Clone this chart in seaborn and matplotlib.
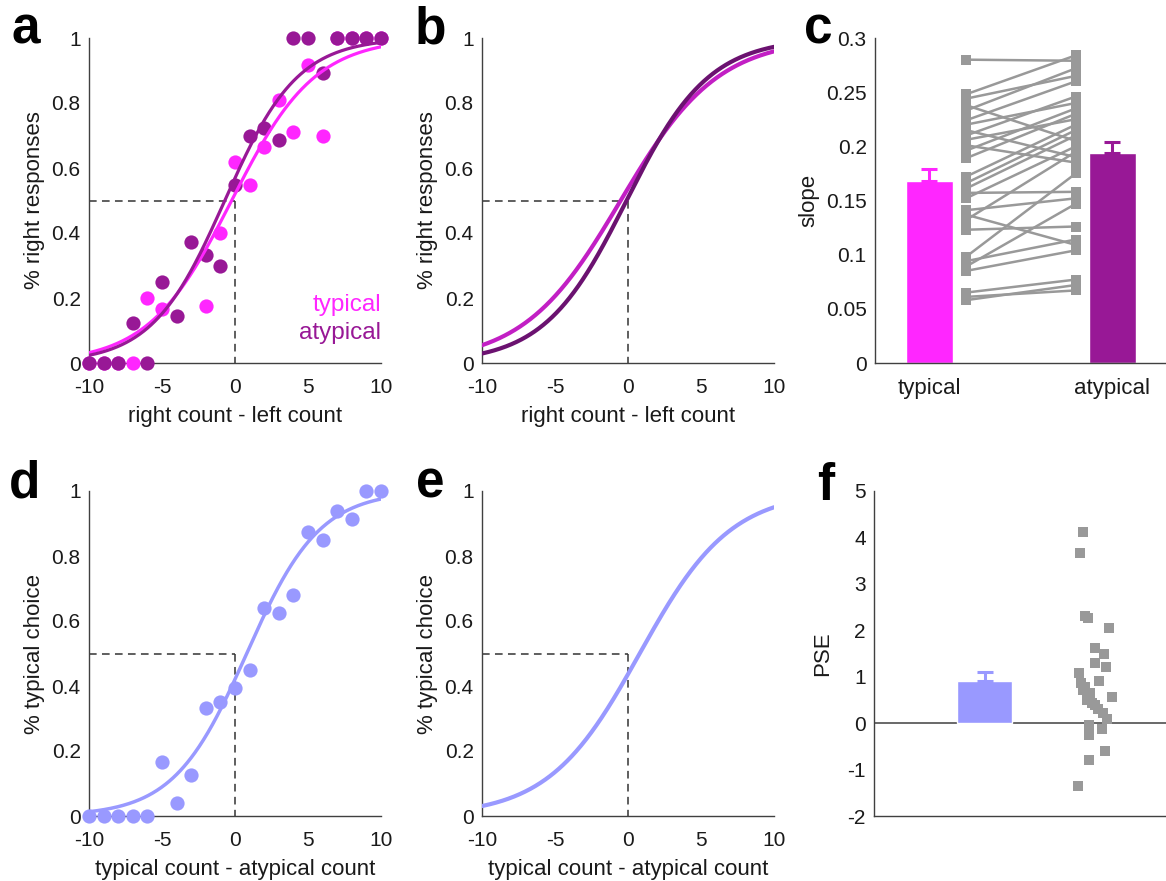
import numpy as np
import pandas as pd
import matplotlib
matplotlib.use("Agg")
import matplotlib.pyplot as plt
import seaborn as sns

# ---------------- data ----------------
# panel a: observed proportions (right responses) per count difference
typ_x = [-10, -9, -8, -7, -6, -5, -2, -1, 0, 1, 2, 3, 4, 5, 6, 7, 8, 9, 10]
typ_y = [0, 0, 0, 0, 0.20, 0.165, 0.175, 0.40, 0.617, 0.548, 0.665, 0.81, 0.712, 0.918, 0.70, 1, 1, 1, 1]
atyp_x = list(range(-10, 11))
atyp_y = [0, 0, 0, 0.124, 0, 0.25, 0.145, 0.372, 0.332, 0.298, 0.548, 0.699, 0.722, 0.687,
          1, 1, 0.893, 1, 1, 1, 1]
# logistic fit parameters (PSE, slope)
fit_a_typ = (-0.23, 0.35)
fit_a_atyp = (-0.70, 0.40)
fit_b_typ = (-0.50, 0.30)
fit_b_atyp = (-0.10, 0.354)

# panel c: individual slopes (paired) and group means / SEM
slope_typical = [0.280, 0.248, 0.244, 0.238, 0.233, 0.224, 0.220, 0.215, 0.210, 0.206,
                 0.201, 0.196, 0.189, 0.172, 0.166, 0.161, 0.157, 0.152, 0.141, 0.137,
                 0.132, 0.123, 0.098, 0.094, 0.089, 0.085, 0.065, 0.061, 0.058]
slope_atypical = [0.279, 0.284, 0.265, 0.205, 0.272, 0.260, 0.240, 0.190, 0.246, 0.225,
                  0.185, 0.235, 0.230, 0.220, 0.215, 0.210, 0.158, 0.200, 0.152, 0.109,
                  0.195, 0.126, 0.175, 0.114, 0.147, 0.104, 0.077, 0.067, 0.072]
slope_means = [0.168, 0.1935]
slope_sems = [0.011, 0.0105]
cond_labels = ["typical", "atypical"]

# panel d: typical choice proportions
d_x = list(range(-10, 11))
d_y = [0, 0, 0, 0, 0, 0.166, 0.039, 0.125, 0.333, 0.351, 0.394, 0.450, 0.640, 0.624,
       0.679, 0.875, 0.850, 0.937, 0.913, 1.0, 1.0]
fit_d = (0.80, 0.40)
fit_e = (0.80, 0.32)

# panel f: PSE values
pse_values = [4.12, 3.66, 2.31, 2.26, 2.04, 1.62, 1.49, 1.30, 1.21, 1.09, 0.91, 0.87,
              0.78, 0.71, 0.64, 0.56, 0.50, 0.44, 0.39, 0.30, 0.22, 0.10, -0.04, -0.13,
              -0.26, -0.60, -0.80, -1.35]
pse_mean = 0.91
pse_sem = 0.20

psych_ticks = [0, 0.2, 0.4, 0.6, 0.8, 1]
psych_ticklabels = ["0", "0.2", "0.4", "0.6", "0.8", "1"]
count_ticks = [-10, -5, 0, 5, 10]
count_ticklabels = ["-10", "-5", "0", "5", "10"]
slope_ticks = [0, 0.05, 0.1, 0.15, 0.2, 0.25, 0.3]
slope_ticklabels = ["0", "0.05", "0.1", "0.15", "0.2", "0.25", "0.3"]
pse_ticks = [-2, -1, 0, 1, 2, 3, 4, 5]
pse_ticklabels = ["-2", "-1", "0", "1", "2", "3", "4", "5"]

# ---------------- style ----------------
MAG = "#FF26FF"
PUR = "#981896"
B_LIGHT = "#C21FC4"
B_DARK = "#6B1270"
PERI = "#9999FF"
GRAY = "#999999"
AXC = "#404040"
TXT = "#1a1a1a"
LAB_FS = 16

sns.set_theme(style="white")
plt.rcParams["font.family"] = ["Liberation Sans", "DejaVu Sans"]
plt.rcParams["font.size"] = 15

W, H = 1166, 881
fig = plt.figure(figsize=(W / 100, H / 100), dpi=100)


def add_ax(l, r, t, b):
    return fig.add_axes([l / W, 1 - b / H, (r - l) / W, (b - t) / H])


def style(ax):
    for s in ["top", "right"]:
        ax.spines[s].set_visible(False)
    for s in ["left", "bottom"]:
        ax.spines[s].set_color(AXC)
        ax.spines[s].set_linewidth(1.0)
    ax.tick_params(direction="in", length=4, width=1, color=AXC, labelsize=15,
                   labelcolor=TXT)
    ax.tick_params(axis="y", pad=6)
    ax.tick_params(axis="x", pad=10.5)
    ax.set_facecolor("white")


def logistic(x, p):
    mu, k = p
    return 1.0 / (1.0 + np.exp(-k * (x - mu)))


xx = np.linspace(-10, 10, 401)


def psych_axes(ax, xlabel, ylabel):
    style(ax)
    ax.set_xlim(-10, 10)
    ax.set_ylim(0, 1)
    ax.set_xticks(count_ticks)
    ax.set_xticklabels(count_ticklabels)
    ax.set_yticks(psych_ticks)
    ax.set_yticklabels(psych_ticklabels)
    ax.set_xlabel(xlabel, fontsize=LAB_FS, labelpad=6.5, color=TXT)
    ax.set_ylabel(ylabel, fontsize=LAB_FS, labelpad=5, color=TXT)


def ref_lines(ax):
    ax.plot([-10, 0], [0.5, 0.5], ls=(0, (5, 3.5)), color="#333333", lw=1.1, zorder=1)
    ax.plot([0, 0], [0.5, 0], ls=(0, (5, 3.5)), color="#333333", lw=1.1, zorder=1)


# ---- panel a ----
ax = add_ax(89, 381, 38, 363)
psych_axes(ax, "right count - left count", "% right responses")
ref_lines(ax)
sns.scatterplot(x=typ_x, y=typ_y, color=MAG, s=105, linewidth=0, ax=ax, zorder=3, clip_on=False)
sns.scatterplot(x=atyp_x, y=atyp_y, color=PUR, s=105, linewidth=0, ax=ax, zorder=4, clip_on=False)
sns.lineplot(x=xx, y=logistic(xx, fit_a_typ), color=MAG, lw=2.3, ax=ax, zorder=5)
sns.lineplot(x=xx, y=logistic(xx, fit_a_atyp), color=PUR, lw=2.3, ax=ax, zorder=6)
ax.text(10, 0.178, "typical", color=MAG, ha="right", va="center", fontsize=17.5)
ax.text(10, 0.092, "atypical", color=PUR, ha="right", va="center", fontsize=17.5)

# ---- panel b ----
ax = add_ax(482, 774, 38, 363)
psych_axes(ax, "right count - left count", "% right responses")
ref_lines(ax)
sns.lineplot(x=xx, y=logistic(xx, fit_b_typ), color=B_LIGHT, lw=3.0, ax=ax, zorder=3)
sns.lineplot(x=xx, y=logistic(xx, fit_b_atyp), color=B_DARK, lw=3.0, ax=ax, zorder=4)

# ---- panel c ----
ax = add_ax(875, 1166, 38, 363)
style(ax)
ax.set_xlim(0.703, 2.293)
ax.set_ylim(0, 0.3)
bar_pos = [1, 2]
ax.bar(bar_pos, slope_means, width=0.254, color=[MAG, PUR], zorder=2)
for p, m, e, c in zip(bar_pos, slope_means, slope_sems, [MAG, PUR]):
    ax.errorbar([p], [m], yerr=[[0], [e]], fmt="none", ecolor=c, elinewidth=2.2,
                capsize=5.5, capthick=2.2, zorder=3)
n = len(slope_typical)
df_c = pd.DataFrame({
    "subject": list(range(n)) * 2,
    "pos": [1.2] * n + [1.8] * n,
    "slope": slope_typical + slope_atypical,
})
sns.lineplot(data=df_c, x="pos", y="slope", units="subject", estimator=None,
             color=GRAY, lw=1.8, marker="s", markersize=6.5, markeredgewidth=0,
             ax=ax, zorder=4)
ax.set_xticks(bar_pos)
ax.set_xticklabels(cond_labels, fontsize=LAB_FS)
ax.tick_params(axis="x", length=0, pad=11)
ax.set_yticks(slope_ticks)
ax.set_yticklabels(slope_ticklabels)
ax.set_xlabel("")
ax.set_ylabel("slope", fontsize=LAB_FS, labelpad=5, color=TXT)

# ---- panel d ----
ax = add_ax(89, 381, 491, 816)
psych_axes(ax, "typical count - atypical count", "% typical choice")
ref_lines(ax)
sns.scatterplot(x=d_x, y=d_y, color=PERI, s=105, linewidth=0, ax=ax, zorder=3, clip_on=False)
sns.lineplot(x=xx, y=logistic(xx, fit_d), color=PERI, lw=2.5, ax=ax, zorder=4)

# ---- panel e ----
ax = add_ax(482, 774, 491, 816)
psych_axes(ax, "typical count - atypical count", "% typical choice")
ref_lines(ax)
sns.lineplot(x=xx, y=logistic(xx, fit_e), color=PERI, lw=3.0, ax=ax, zorder=3)

# ---- panel f ----
pse_jitter = [-0.08, -0.11, -0.065, -0.035, 0.155, 0.03, 0.11, 0.03, 0.13, -0.12, 0.07, -0.10,
              -0.065, -0.08, -0.02, 0.19, -0.05, 0.0, 0.03, 0.055, 0.10, 0.14, -0.025, 0.095,
              -0.025, 0.125, -0.03, -0.13]
ax = add_ax(874, 1166, 491, 816)
style(ax)
ax.set_xlim(-0.03, 2.69)
ax.set_ylim(-2, 5)
ax.axhline(0, color=AXC, lw=1.1, zorder=1)
ax.bar([1], [pse_mean], width=0.52, color=PERI, zorder=2)
ax.errorbar([1], [pse_mean], yerr=[[0], [pse_sem]], fmt="none", ecolor=PERI,
            elinewidth=2.2, capsize=5.5, capthick=2.2, zorder=3)
sns.scatterplot(x=2 + np.array(pse_jitter), y=pse_values, color=GRAY, marker="s", s=48,
                linewidth=0, ax=ax, zorder=4)
ax.set_xticks([])
ax.set_yticks(pse_ticks)
ax.set_yticklabels(pse_ticklabels)
ax.set_ylabel("PSE", fontsize=LAB_FS, labelpad=10, color=TXT)

# ---- panel letters ----
for lab, px, py in [("a", 26, 30), ("b", 430, 30), ("c", 818, 30),
                    ("d", 25, 484), ("e", 430, 484), ("f", 826, 487)]:
    fig.text(px / W, 1 - py / H, lab, fontsize=37, fontweight="bold",
             ha="center", va="center", color="black")

fig.savefig("out.png", dpi=100, facecolor="white")
